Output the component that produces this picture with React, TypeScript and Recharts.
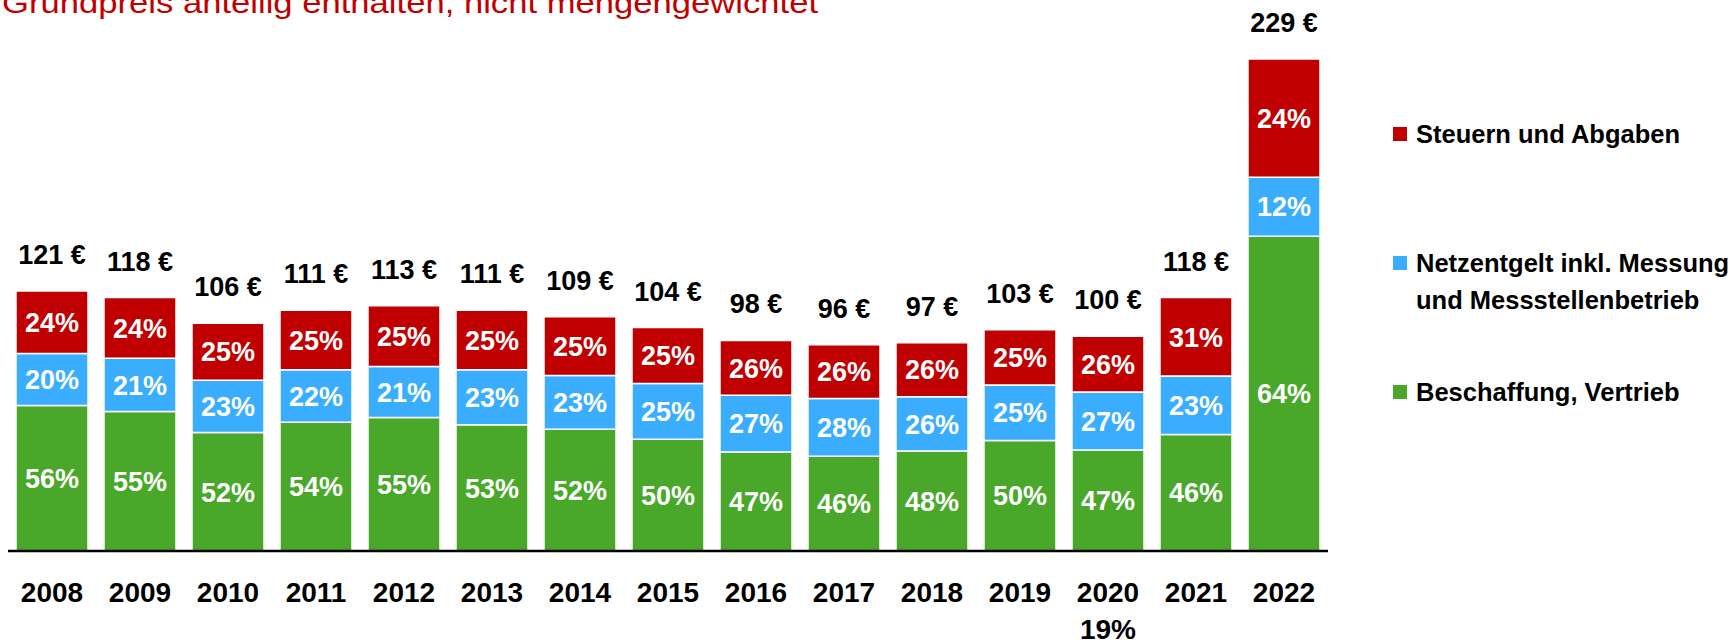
import { BarChart, Bar, XAxis, YAxis, LabelList } from 'recharts';

const years = ['2008', '2009', '2010', '2011', '2012', '2013', '2014', '2015', '2016', '2017', '2018', '2019', '2020', '2021', '2022'];
const totals = [121, 118, 106, 111, 113, 111, 109, 104, 98, 96, 97, 103, 100, 118, 229];
const pctSupply = [56, 55, 52, 54, 55, 53, 52, 50, 47, 46, 48, 50, 47, 46, 64];
const pctGrid = [20, 21, 23, 22, 21, 23, 23, 25, 27, 28, 26, 25, 27, 23, 12];
const pctTax = [24, 24, 25, 25, 25, 25, 25, 25, 26, 26, 26, 25, 26, 31, 24];
const tickNotes = ['', '', '', '', '', '', '', '', '', '', '', '', '19%', '', ''];

const series = [
  { key: 'tax', label: ['Steuern und Abgaben'], color: '#C00000' },
  { key: 'grid', label: ['Netzentgelt inkl. Messung', 'und Messstellenbetrieb'], color: '#3AADFF' },
  { key: 'supply', label: ['Beschaffung, Vertrieb'], color: '#49A82A' },
];

const title = 'Grundpreis anteilig enthalten, nicht mengengewichtet';

const data = years.map((year, i) => ({
  year,
  supply: (totals[i] * pctSupply[i]) / 100,
  grid: (totals[i] * pctGrid[i]) / 100,
  tax: (totals[i] * pctTax[i]) / 100,
  pSupply: pctSupply[i],
  pGrid: pctGrid[i],
  pTax: pctTax[i],
  total: totals[i],
}));

const FONT = '"Liberation Sans", Arial, sans-serif';

const pctLabel = (props: any) => {
  const { x, y, width, height, value } = props;
  return (
    <text
      x={Number(x) + Number(width) / 2}
      y={Number(y) + Number(height) / 2}
      dy="0.36em"
      textAnchor="middle"
      fill="#fff"
      fontSize={27}
      fontWeight="bold"
      fontFamily={FONT}
    >
      {value}%
    </text>
  );
};

const totalLabel = (props: any) => {
  const { x, y, width, value } = props;
  return (
    <text
      x={Number(x) + Number(width) / 2}
      y={Number(y) - 27}
      textAnchor="middle"
      fill="#000"
      fontSize={27}
      fontWeight="bold"
      fontFamily={FONT}
    >
      {value} €
    </text>
  );
};

const YearTick = (props: any) => {
  const { x, y, payload, index } = props;
  const note = tickNotes[index];
  return (
    <g>
      <text x={x} y={y + 51} textAnchor="middle" fill="#000" fontSize={28} fontWeight="bold" fontFamily={FONT}>
        {payload.value}
      </text>
      {note && (
        <text x={x} y={y + 88} textAnchor="middle" fill="#000" fontSize={28} fontWeight="bold" fontFamily={FONT}>
          {note}
        </text>
      )}
    </g>
  );
};

function LegendBox() {
  const rows = [134, 263, 392];
  return (
    <div style={{ position: 'absolute', left: 0, top: 0, width: 1735, height: 642, pointerEvents: 'none' }}>
      {series.map((s, i) => (
        <div key={s.key}>
          <div
            style={{
              position: 'absolute',
              left: 1393,
              top: rows[i] - 7,
              width: 14,
              height: 14,
              background: s.color,
            }}
          />
          {s.label.map((line, j) => (
            <div
              key={line}
              style={{
                position: 'absolute',
                left: 1416,
                top: rows[i] + j * 37 - 15,
                height: 30,
                lineHeight: '30px',
                fontFamily: FONT,
                fontWeight: 'bold',
                fontSize: 25.5,
                color: '#000',
                whiteSpace: 'nowrap',
              }}
            >
              {line}
            </div>
          ))}
        </div>
      ))}
    </div>
  );
}

export default function App() {
  return (
    <div style={{ position: 'relative', width: 1735, height: 642, overflow: 'hidden', background: '#fff' }}>
      <style>{'body{margin:0}'}</style>
      <svg width={1735} height={40} style={{ position: 'absolute', left: 0, top: 0 }}>
        <text
          x={2}
          y={13}
          fontSize={30}
          fill="#C00000"
          fontFamily={FONT}
          textLength={816}
          lengthAdjust="spacingAndGlyphs"
        >
          {title}
        </text>
      </svg>
      <BarChart
        width={1735}
        height={642}
        data={data}
        margin={{ top: 14, right: 407, bottom: 31, left: 8 }}
        barSize={72}
        style={{ position: 'absolute', left: 0, top: 0 }}
      >
        <XAxis
          dataKey="year"
          height={60}
          tickLine={false}
          tickSize={0}
          tickMargin={0}
          axisLine={{ stroke: '#000', strokeWidth: 2.5 }}
          tick={<YearTick />}
          interval={0}
        />
        <YAxis hide domain={[0, 250]} />
        <Bar dataKey="supply" stackId="a" fill="#49A82A" stroke="#fff" strokeWidth={1.5} isAnimationActive={false}>
          <LabelList dataKey="pSupply" content={pctLabel} />
        </Bar>
        <Bar dataKey="grid" stackId="a" fill="#3AADFF" stroke="#fff" strokeWidth={1.5} isAnimationActive={false}>
          <LabelList dataKey="pGrid" content={pctLabel} />
        </Bar>
        <Bar dataKey="tax" stackId="a" fill="#C00000" stroke="#fff" strokeWidth={1.5} isAnimationActive={false}>
          <LabelList dataKey="pTax" content={pctLabel} />
          <LabelList dataKey="total" content={totalLabel} />
        </Bar>
      </BarChart>
      <LegendBox />
    </div>
  );
}
